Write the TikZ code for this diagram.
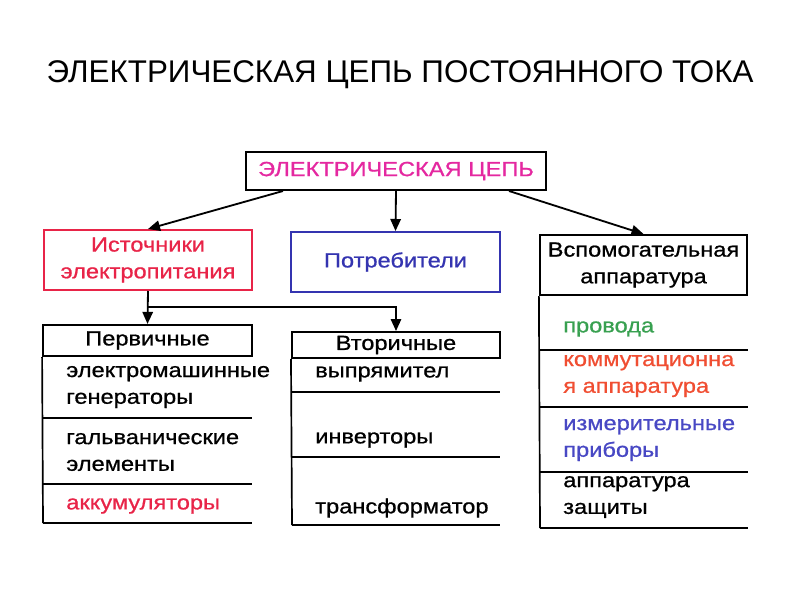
\documentclass[tikz,border=0pt]{standalone}
\usepackage{fontspec}
\setmainfont{Liberation Sans}
\newfontfamily\boxfont{Liberation Sans}[FakeStretch=1.15,FakeBold=0.8]
\usepackage{xcolor}
\usetikzlibrary{arrows.meta,positioning,calc}

\definecolor{circmagenta}{RGB}{228,40,160}
\definecolor{srcred}{RGB}{232,36,72}
\definecolor{usrblue}{RGB}{52,52,176}
\definecolor{wiregreen}{RGB}{56,160,80}
\definecolor{switchorange}{RGB}{240,78,50}
\definecolor{meterblue}{RGB}{72,72,196}

\begin{document}
\begin{tikzpicture}[
    x=0.025cm, y=-0.025cm,
    block/.style={rectangle, draw, line width=1.4pt, align=center, inner sep=2pt,
                  font=\boxfont\fontsize{14.6}{19}\selectfont},
    head/.style={rectangle, draw, line width=1.4pt, inner sep=0pt,
                 font=\boxfont\fontsize{14.6}{19}\selectfont},
    item/.style={anchor=west, align=left, inner sep=0pt,
                 font=\boxfont\fontsize{14.6}{19}\selectfont},
    rule/.style={line width=1.2pt},
    arrow/.style={-{Triangle[length=3mm,width=2.6mm]}, line width=1.3pt}
]
\useasboundingbox (0,0) rectangle (800,600);

\node[font=\fontsize{22.3}{26}\selectfont] (title) at (400,75) {ЭЛЕКТРИЧЕСКАЯ ЦЕПЬ ПОСТОЯННОГО ТОКА};

% top level
\node[block, minimum width=7.5cm, minimum height=0.95cm, text=circmagenta] (circuit) at (396,171) {ЭЛЕКТРИЧЕСКАЯ ЦЕПЬ};
\node[block, draw=srcred, text=srcred, minimum width=5.2cm, minimum height=1.5cm] (sources) at (148,260) {Источники\\электропитания};
\node[block, draw=usrblue, text=usrblue, minimum width=5.22cm, minimum height=1.5cm] (consumers) at (395.5,262) {Потребители};
\node[block, minimum width=5.18cm, minimum height=1.5cm] (aux) at (643.5,265) {Вспомогательная\\аппаратура};

\draw[arrow] ([xshift=0.95cm]circuit.south west) -- (sources.north);
\draw[arrow] (circuit.south) -- (consumers.north);
\draw[arrow] ([xshift=-0.95cm]circuit.south east) -- (aux.north);

% sources split
\node[head, minimum width=5.22cm, minimum height=0.78cm] (primary) at (147.5,340.5) {Первичные};
\node[head, minimum width=5.2cm, minimum height=0.65cm] (secondary) at (396,345) {Вторичные};
\coordinate (split) at (148,307);
\coordinate (turn) at (396,307);
\draw[arrow] (sources.south) -- (primary.north);
\draw[arrow] (split) -- (turn) -- (secondary.north);

% primary list
\draw[rule] (primary.south west) -- (43,523);
\foreach \yy in {418,484,523}
    \draw[rule] (43,\yy) -- (252,\yy);
\node[item] (gen) at (66,387) {электромашинные\\генераторы};
\node[item] (galv) at (66,452) {гальванические\\элементы};
\node[item, text=srcred] (acc) at (66,506) {аккумуляторы};

% secondary list
\draw[rule] (secondary.south west) -- (292,525);
\foreach \yy in {392,457,525}
    \draw[rule] (292,\yy) -- (500,\yy);
\node[item] (rect) at (315,374) {выпрямител};
\node[item] (inv) at (315,440) {инверторы};
\node[item] (trans) at (315,508) {трансформатор};

% auxiliary list
\draw[rule] (aux.south west) -- (540,528);
\foreach \yy in {350,407,472,528}
    \draw[rule] (540,\yy) -- (748,\yy);
\node[item, text=wiregreen] (wires) at (563,329) {провода};
\node[item, text=switchorange] (switch) at (563,376) {коммутационна\\я аппаратура};
\node[item, text=meterblue] (meters) at (563,440) {измерительные\\приборы};
\node[item] (prot) at (563,497) {аппаратура\\защиты};
\end{tikzpicture}
\end{document}
